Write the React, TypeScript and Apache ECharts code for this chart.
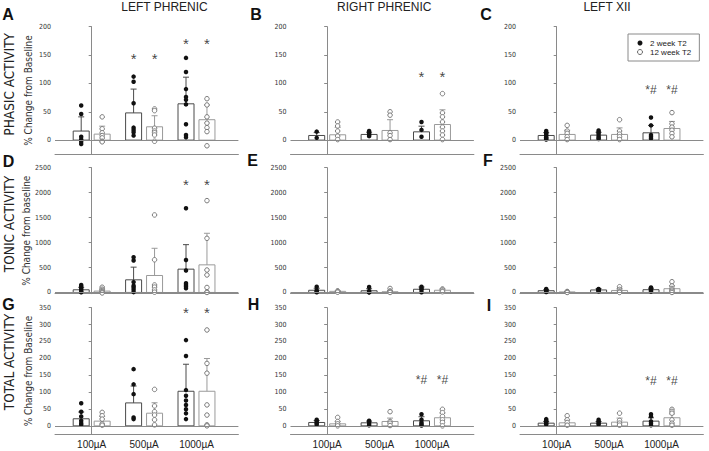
import React, { useEffect, useRef } from 'react';
import * as echarts from 'echarts';

// ---------- labels ----------
const doseLabels = ['100µA', '500µA', '1000µA'];
const panelLetters = ['A', 'B', 'C', 'D', 'E', 'F', 'G', 'H', 'I'];
const columnTitles = ['LEFT PHRENIC', 'RIGHT PHRENIC', 'LEFT XII'];
const rowTitles = ['PHASIC ACTIVITY', 'TONIC ACTIVITY', 'TOTAL ACTIVITY'];
const rowAxisNames = ['% Change from Baseline', '% Change from baseline', '% Change from Baseline'];
const seriesNames = ['2 week T2', '12 week T2'];

// ---------- y axis scales ----------
const rowMin = [-25, -25, -25];
const rowMax = [200, 2500, 350];
const rowTicks = [
  [0, 50, 100, 150, 200],
  [0, 500, 1000, 1500, 2000, 2500],
  [0, 50, 100, 150, 200, 250, 300, 350],
];

// ---------- A: phasic, left phrenic ----------
const aBlackMean = [16, 48, 64];
const aBlackSD = [25, 42, 47];
const aWhiteMean = [10.6, 23.5, 36];
const aWhiteSD = [14, 19.5, 26];
const aBlackPts = [[61, 46, 6, 1, -3, -7], [112, 103, 65, 22, 18, 14, 8], [145, 120, 90, 76, 71, 63, 28, 9, 5]];
const aWhitePts = [[41, 20, 13, 8, 4, -2, -3], [55, 52, 21, 16, 13, 9, -2], [73, 62, 41, 30, 22, 15, -10]];
const aMarks = [['', 0], ['*', 150], ['*', 175]];

// ---------- B: phasic, right phrenic ----------
const bBlackMean = [8.2, 10, 14.6];
const bBlackSD = [5, 4, 10];
const bWhiteMean = [9.4, 17, 27.5];
const bWhiteSD = [13, 19, 26];
const bBlackPts = [[15, 4], [16, 13, 11, 9, 7], [32, 18, 6]];
const bWhitePts = [[32, 25, 16, 7, 1], [50, 44, 13, 8, 1], [82, 48, 41, 32, 23, 16, 9, 1]];
const bMarks = [['', 0], ['', 0], ['*', 117]];

// ---------- C: phasic, left XII ----------
const cBlackMean = [8.2, 8.8, 12.9];
const cBlackSD = [5, 5, 13];
const cWhiteMean = [10, 10, 20.5];
const cWhiteSD = [7.5, 11.6, 12.5];
const cBlackPts = [[16, 13, 11, 8, 5, 3, 1], [17, 14, 11, 7, 4, 2], [40, 26, 9, 6, 3]];
const cWhitePts = [[26, 16, 12, 6, 1], [36, 16, 10.5, 6, 1], [48.5, 29, 23, 17.5, 11.7, 5.8]];
const cMarks = [['', 0], ['', 0], ['*#', 91]];

// ---------- D: tonic, left phrenic ----------
const dBlackMean = [53, 253, 467];
const dBlackSD = [50, 254, 491];
const dWhiteMean = [27, 340, 553];
const dWhiteSD = [40, 545, 633];
const dBlackPts = [[150, 120, 85, 55, 20, 5], [707, 640, 207, 133, 100, 53, 7], [1687, 650, 440, 185, 150, 120, 85]];
const dWhitePts = [[105, 65, 40, 20, 5, -10], [1553, 655, 150, 107, 50, 5], [1840, 1085, 450, 350, 100, 10, 0]];
const dMarks = [['', 0], ['', 0], ['*', 2220]];

// ---------- E: tonic, right phrenic ----------
const eBlackMean = [44, 34, 64];
const eBlackSD = [40, 40, 45];
const eWhiteMean = [22, 14, 44];
const eWhiteSD = [10, 25, 25];
const eBlackPts = [[115, 45, 15, 4], [110, 30, 5, 2], [115, 80, 55, 5]];
const eWhitePts = [[30, 25, 15, 5], [80, 30, 10, 0], [70, 55, 30, 15]];
const eMarks = [['', 0], ['', 0], ['', 0]];

// ---------- F: tonic, left XII ----------
const fBlackMean = [35, 50, 55];
const fBlackSD = [20, 25, 30];
const fWhiteMean = [10, 40, 75];
const fWhiteSD = [10, 40, 60];
const fBlackPts = [[70, 50, 35, 20, 10], [70, 60, 45, 35, 25], [100, 75, 55, 40, 20]];
const fWhitePts = [[20, 12, 5, 0], [115, 60, 30, 10, 0], [215, 130, 80, 50, 25, 0]];
const fMarks = [['', 0], ['', 0], ['', 0]];

// ---------- G: total, left phrenic ----------
const gBlackMean = [21, 68, 102.5];
const gBlackSD = [20, 50, 80];
const gWhiteMean = [14, 37.5, 102.5];
const gWhiteSD = [14, 31, 97];
const gBlackPts = [[67, 42, 28, 15, 8, 3], [168, 123, 94, 25, 20], [254, 207, 106, 89, 75, 62, 49, 37, 20]];
const gWhitePts = [[40, 30, 20, 6, 2], [108, 59, 42, 32, 18, 3], [284, 185, 156, 62, 32, 3, 0]];
const gMarks = [['', 0], ['', 0], ['*', 345]];

// ---------- H: total, right phrenic ----------
const hBlackMean = [10, 9, 15];
const hBlackSD = [6, 5, 12];
const hWhiteMean = [6, 13, 24];
const hWhiteSD = [7, 10, 14];
const hBlackPts = [[18, 13, 8, 3], [15, 11, 6, 2], [34.5, 18, 10, 5, 1]];
const hWhitePts = [[25, 13, 6, 0], [42, 13, 8, 1], [49, 39, 28, 18, 10, 0]];
const hMarks = [['', 0], ['', 0], ['*#', 139]];

// ---------- I: total, left XII ----------
const iBlackMean = [8, 8, 14];
const iBlackSD = [5, 5, 10];
const iWhiteMean = [9, 11, 24];
const iWhiteSD = [9, 12, 11];
const iBlackPts = [[20, 16, 12, 8, 4], [18, 13, 8, 4], [34.5, 28, 13, 8, 2]];
const iWhitePts = [[30, 18, 10, 2], [37.5, 16, 8, 2], [49, 43, 37.5, 18, 8, 2]];
const iMarks = [['', 0], ['', 0], ['*#', 136]];

const panels = [
  [aBlackMean, aBlackSD, aWhiteMean, aWhiteSD, aBlackPts, aWhitePts, aMarks],
  [bBlackMean, bBlackSD, bWhiteMean, bWhiteSD, bBlackPts, bWhitePts, bMarks],
  [cBlackMean, cBlackSD, cWhiteMean, cWhiteSD, cBlackPts, cWhitePts, cMarks],
  [dBlackMean, dBlackSD, dWhiteMean, dWhiteSD, dBlackPts, dWhitePts, dMarks],
  [eBlackMean, eBlackSD, eWhiteMean, eWhiteSD, eBlackPts, eWhitePts, eMarks],
  [fBlackMean, fBlackSD, fWhiteMean, fWhiteSD, fBlackPts, fWhitePts, fMarks],
  [gBlackMean, gBlackSD, gWhiteMean, gWhiteSD, gBlackPts, gWhitePts, gMarks],
  [hBlackMean, hBlackSD, hWhiteMean, hWhiteSD, hBlackPts, hWhitePts, hMarks],
  [iBlackMean, iBlackSD, iWhiteMean, iWhiteSD, iBlackPts, iWhitePts, iMarks],
] as any[];

// ---------- layout ----------
const colLeft = [55, 290.5, 520];
const gridWidth = 183.4;
const rowTop = [26.7, 167.7, 307.7];
const rowHeight = [127.6, 126, 126.6];
const xMin = -0.7;
const xMax = 2.8;
const pairOffset = 0.2;
const barHalf = 8;
const capHalf = 3;
const letterPos = [[8, 14.5], [256, 14.5], [486, 14.5], [8.5, 161], [252.5, 160], [488, 160.5], [8.5, 304], [253.5, 304], [489, 305]];

const FONT = 'Liberation Sans, Arial, sans-serif';
const NARROW = "'Liberation Sans Narrow', 'DejaVu Sans Condensed', Arial, sans-serif";

const makeBarRender = (stroke: string, errColor: string) => (params: any, api: any) => {
  const x = api.value(0);
  const m = api.value(1);
  const s = api.value(2);
  const base = api.coord([x, 0]);
  const top = api.coord([x, m]);
  const err = api.coord([x, m + s]);
  return {
    type: 'group',
    children: [
      {
        type: 'rect',
        shape: { x: top[0] - barHalf, y: top[1], width: barHalf * 2, height: base[1] - top[1] },
        style: { fill: '#ffffff', stroke, lineWidth: 1 },
      },
      {
        type: 'line',
        shape: { x1: top[0], y1: top[1], x2: err[0], y2: err[1] },
        style: { stroke: errColor, lineWidth: 1 },
      },
      {
        type: 'line',
        shape: { x1: err[0] - capHalf, y1: err[1], x2: err[0] + capHalf, y2: err[1] },
        style: { stroke: errColor, lineWidth: 1 },
      },
    ],
  };
};

function buildOption() {
  const grid: any[] = [];
  const xAxis: any[] = [];
  const yAxis: any[] = [];
  const series: any[] = [];
  const graphic: any[] = [];

  panels.forEach((p: any[], idx: number) => {
    const row = Math.floor(idx / 3);
    const col = idx % 3;
    const [bMean, bSD, wMean, wSD, bPts, wPts, marks] = p;

    grid.push({
      left: colLeft[col],
      top: rowTop[row],
      width: gridWidth,
      height: rowHeight[row],
      containLabel: false,
      outerBoundsMode: 'none',
    });
    xAxis.push({
      type: 'value',
      gridIndex: idx,
      min: xMin,
      max: xMax,
      axisLine: { show: true, onZero: false, lineStyle: { color: '#8a8a8a', width: 1 } },
      axisTick: { show: false },
      splitLine: { show: false },
      axisLabel: {
        show: row === 2,
        customValues: [0, 1, 2],
        formatter: (v: number) => doseLabels[Math.round(v)] ?? '',
        fontSize: 10,
        color: '#222',
        fontFamily: FONT,
        margin: 5,
      },
    });
    yAxis.push({
      type: 'value',
      gridIndex: idx,
      min: rowMin[row],
      max: rowMax[row],
      axisLine: { show: true, lineStyle: { color: '#8a8a8a', width: 1 } },
      axisTick: { show: true, customValues: rowTicks[row], length: 3, lineStyle: { color: '#8a8a8a' } },
      splitLine: { show: false },
      axisLabel: {
        customValues: rowTicks[row],
        formatter: (v: number) => String(Math.round(v)),
        fontSize: 7,
        color: '#333',
        fontFamily: NARROW,
        margin: 4,
      },
      name: col === 0 ? rowAxisNames[row] : '',
      nameLocation: 'middle',
      nameRotate: 90,
      nameGap: 22,
      nameTextStyle: { fontSize: 10, color: '#333', fontFamily: NARROW },
    });

    const bBars = bMean.map((m: number, g: number) => [g - pairOffset, m, bSD[g]]);
    const wBars = wMean.map((m: number, g: number) => [g + pairOffset, m, wSD[g]]);
    series.push({
      type: 'custom',
      name: 'bars2',
      xAxisIndex: idx,
      yAxisIndex: idx,
      renderItem: makeBarRender('#4a4a4a', '#4a4a4a'),
      encode: { x: 0, y: 1 },
      data: bBars,
      silent: true,
      clip: false,
    });
    series.push({
      type: 'custom',
      name: 'bars12',
      xAxisIndex: idx,
      yAxisIndex: idx,
      renderItem: makeBarRender('#9a9a9a', '#9a9a9a'),
      encode: { x: 0, y: 1 },
      data: wBars,
      silent: true,
      clip: false,
    });

    const bData: number[][] = [];
    bPts.forEach((arr: number[], g: number) => arr.forEach((v) => bData.push([g - pairOffset, v])));
    const wData: number[][] = [];
    wPts.forEach((arr: number[], g: number) => arr.forEach((v) => wData.push([g + pairOffset, v])));

    series.push({
      type: 'scatter',
      name: seriesNames[0],
      xAxisIndex: idx,
      yAxisIndex: idx,
      symbol: 'circle',
      symbolSize: 4.5,
      itemStyle: { color: '#111', opacity: 1 },
      data: bData,
      silent: true,
      markLine: {
        silent: true,
        symbol: ['none', 'none'],
        label: { show: false },
        lineStyle: { color: '#8a8a8a', type: 'solid', width: 1 },
        data: [{ yAxis: 0 }],
      },
    });
    series.push({
      type: 'scatter',
      name: seriesNames[1],
      xAxisIndex: idx,
      yAxisIndex: idx,
      symbol: 'circle',
      symbolSize: 4.5,
      itemStyle: { color: '#fff', borderColor: '#7a7a7a', borderWidth: 1, opacity: 1 },
      data: wData,
      silent: true,
    });

    const annData: any[] = [];
    marks.forEach((mk: any[], g: number) => {
      if (mk[0]) {
        annData.push({ name: mk[0], value: [g - pairOffset, mk[1]] });
        annData.push({ name: mk[0], value: [g + pairOffset, mk[1]] });
      }
    });
    series.push({
      type: 'scatter',
      name: 'marks',
      xAxisIndex: idx,
      yAxisIndex: idx,
      symbol: 'circle',
      symbolSize: 1,
      itemStyle: { color: 'rgba(0,0,0,0)' },
      silent: true,
      label: {
        show: true,
        position: 'inside',
        formatter: '{b}',
        color: '#111',
        fontFamily: FONT,
        fontSize: 12,
      },
      data: annData.map((d) => ({
        ...d,
        label: d.name === '*'
          ? { fontSize: 15, offset: [0, 3], color: '#111' }
          : { fontSize: 12, offset: [0, 1], color: '#111' },
      })),
    });

    graphic.push({
      type: 'text',
      x: letterPos[idx][0],
      y: letterPos[idx][1],
      style: {
        text: panelLetters[idx],
        font: `bold 16px ${FONT}`,
        fill: '#111',
        textAlign: 'center',
        textVerticalAlign: 'middle',
      },
    });
  });

  const titleX = [164.5, 384.3, 607];
  columnTitles.forEach((t, c) => {
    graphic.push({
      type: 'text',
      x: titleX[c],
      y: 6.5,
      style: { text: t, font: `12px ${FONT}`, fill: '#222', textAlign: 'center', textVerticalAlign: 'middle' },
    });
  });
  const rowLabelY = [84.3, 224, 362];
  rowTitles.forEach((t, r) => {
    graphic.push({
      type: 'text',
      x: 9,
      y: rowLabelY[r],
      rotation: Math.PI / 2,
      style: { text: t, font: `13.5px ${NARROW}`, fill: '#222', textAlign: 'center', textVerticalAlign: 'middle' },
    });
  });

  return {
    animation: false,
    backgroundColor: '#ffffff',
    textStyle: { fontFamily: FONT },
    grid,
    xAxis,
    yAxis,
    series,
    graphic,
    legend: {
      show: true,
      orient: 'vertical',
      left: 628,
      top: 34,
      padding: [5, 8, 5, 9],
      itemGap: 1,
      itemWidth: 10,
      itemHeight: 5,
      borderColor: '#8a8a8a',
      borderWidth: 1,
      borderRadius: 0,
      selectedMode: false,
      textStyle: { fontSize: 8, color: '#222', fontFamily: FONT },
      data: [
        { name: seriesNames[0], icon: 'circle', itemStyle: { color: '#111' } },
        { name: seriesNames[1], icon: 'circle', itemStyle: { color: '#fff', borderColor: '#666', borderWidth: 1 } },
      ],
    },
  };
}

export default function App() {
  const ref = useRef<HTMLDivElement>(null);
  useEffect(() => {
    if (!ref.current) return;
    const chart = echarts.init(ref.current, undefined, { renderer: 'svg' });
    chart.setOption(buildOption() as any);
    return () => chart.dispose();
  }, []);
  return (
    <div
      ref={ref}
      style={{ position: 'fixed', left: 0, top: 0, width: 709, height: 451, background: '#fff' }}
    />
  );
}
